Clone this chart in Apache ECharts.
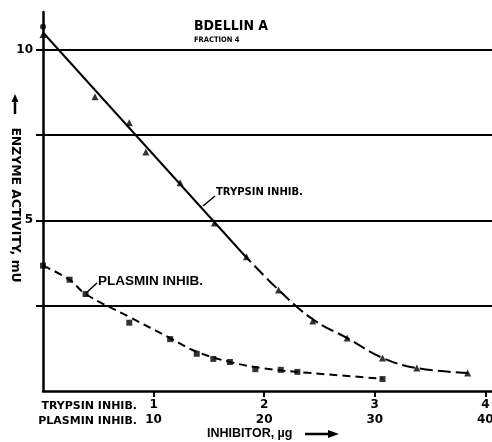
<!DOCTYPE html>
<html>
<head>
<meta charset="utf-8">
<script src="https://cdn.jsdelivr.net/npm/echarts@6/dist/echarts.min.js"></script>
<style>
html, body { margin: 0; padding: 0; background: #fff; }
#chart { width: 492px; height: 442px; }
</style>
</head>
<body>
<div id="chart"></div>
<script>
// trypsin inhibitor, ug (lower scale 0-4)
const trypsinDose = [0, 0.47, 0.78, 0.93, 1.24, 1.55, 1.84, 2.13, 2.44, 2.75, 3.07, 3.38, 3.84];
const trypsinActivity = [10.44, 8.62, 7.86, 7.0, 6.1, 4.92, 3.93, 2.96, 2.05, 1.55, 0.97, 0.67, 0.53];
// plasmin inhibitor, ug (upper scale 0-40)
const plasminDose = [0, 2.4, 3.85, 7.8, 11.5, 13.9, 15.4, 16.9, 19.2, 21.5, 23, 30.7];
const plasminActivity = [3.67, 3.26, 2.84, 2.0, 1.52, 1.09, 0.94, 0.85, 0.64, 0.62, 0.56, 0.35];
// control, no inhibitor
const controlDose = [0];
const controlActivity = [10.67];

// drawn curves
const trypsinFitX = [0, 1.8];
const trypsinFitY = [10.5, 4.05];
const trypsinTailX = [1.8, 2.13, 2.44, 2.75, 3.07, 3.38, 3.84];
const trypsinTailY = [4.05, 2.96, 2.1, 1.55, 0.97, 0.67, 0.53];
const plasminCurveX = [0, 2.4, 3.85, 7.8, 11.5, 13.9, 16.9, 20, 23, 30.7];
const plasminCurveY = [3.67, 3.26, 2.84, 2.17, 1.55, 1.15, 0.85, 0.66, 0.56, 0.36];

const trypsinTicks = [1, 2, 3, 4];
const plasminTicks = [10, 20, 30, 40];
const yTicks = [2.5, 5, 7.5, 10];
const yLabels = [5, 10];

const FONT = '"DejaVu Sans", sans-serif';
const HELV = '"Liberation Sans", Arial, sans-serif';
const NARROW = '"Liberation Sans Narrow", "DejaVu Sans Condensed", sans-serif';

function pairs(xs, ys, scale) {
    return xs.map((x, i) => [x * (scale || 1), ys[i]]);
}

function initChart() {
    const chart = echarts.init(document.getElementById('chart'));
    const option = {
        animation: false,
        backgroundColor: '#fff',
        grid: { left: 43, right: 0, top: 12, bottom: 51, outerBoundsMode: 'none' },
        xAxis: {
            type: 'value',
            min: 0,
            max: 4.06,
            interval: 1,
            axisLine: { lineStyle: { color: '#000', width: 2.5 } },
            axisTick: {
                customValues: trypsinTicks,
                length: 6,
                lineStyle: { color: '#000', width: 2 }
            },
            splitLine: { show: false },
            axisLabel: {
                customValues: trypsinTicks,
                margin: 6,
                color: '#000',
                fontFamily: FONT,
                fontWeight: 'bold',
                fontSize: 12,
                lineHeight: 15,
                formatter: v => v + '\n' + plasminTicks[trypsinTicks.indexOf(v)]
            }
        },
        yAxis: {
            type: 'value',
            min: 0,
            max: 11.1,
            interval: 2.5,
            axisLine: { show: true, lineStyle: { color: '#000', width: 2.5 } },
            axisTick: {
                show: true,
                customValues: yTicks,
                length: 7,
                lineStyle: { color: '#000', width: 2 }
            },
            splitLine: {
                show: true,
                showMinLine: true,
                showMaxLine: true,
                lineStyle: { color: '#000', width: 2 }
            },
            axisLabel: {
                customValues: yLabels,
                margin: 10,
                color: '#000',
                fontFamily: FONT,
                fontWeight: 'bold',
                fontSize: 12
            }
        },
        series: [
            {
                type: 'line',
                data: pairs(trypsinFitX, trypsinFitY),
                showSymbol: false,
                lineStyle: { color: '#000', width: 2 }
            },
            {
                type: 'line',
                data: pairs(trypsinTailX, trypsinTailY),
                smooth: 0.4,
                showSymbol: false,
                lineStyle: { color: '#000', width: 2, type: [13, 5] }
            },
            {
                type: 'line',
                data: pairs(plasminCurveX, plasminCurveY, 0.1),
                smooth: 0.4,
                showSymbol: false,
                lineStyle: { color: '#000', width: 2, type: [8, 5] }
            },
            {
                type: 'scatter',
                data: pairs(trypsinDose, trypsinActivity),
                symbol: 'triangle',
                symbolSize: 7,
                itemStyle: { color: '#000' }
            },
            {
                type: 'scatter',
                data: pairs(plasminDose, plasminActivity, 0.1),
                symbol: 'rect',
                symbolSize: 6,
                itemStyle: { color: '#000' }
            },
            {
                type: 'scatter',
                data: pairs(controlDose, controlActivity),
                symbol: 'circle',
                symbolSize: 6,
                itemStyle: { color: '#000' }
            }
        ],
        graphic: [
            { type: 'text', style: { text: 'BDELLIN A', x: 194, y: 26, font: 'bold 14px ' + NARROW, fill: '#000', textVerticalAlign: 'middle' } },
            { type: 'text', style: { text: 'FRACTION 4', x: 194, y: 40, font: 'bold 7.5px ' + NARROW, fill: '#000', textVerticalAlign: 'middle' } },
            { type: 'text', style: { text: 'TRYPSIN INHIB.', x: 216, y: 192, font: 'bold 10px ' + FONT, fill: '#000', textVerticalAlign: 'middle' } },
            { type: 'line', shape: { x1: 203, y1: 206, x2: 215, y2: 196 }, style: { stroke: '#000', lineWidth: 1.5 } },
            { type: 'text', style: { text: 'PLASMIN INHIB.', x: 98, y: 281, font: 'bold 13.5px ' + HELV, fill: '#000', textVerticalAlign: 'middle' } },
            { type: 'line', shape: { x1: 86, y1: 293, x2: 97, y2: 283 }, style: { stroke: '#000', lineWidth: 1.5 } },
            // y axis name with arrow
            { type: 'text', rotation: -Math.PI / 2, x: 15, y: 205, style: { text: 'ENZYME ACTIVITY, mU', x: 0, y: 0, font: 'bold 12.4px ' + FONT, fill: '#000', textAlign: 'center', textVerticalAlign: 'middle' } },
            { type: 'line', shape: { x1: 15, y1: 114, x2: 15, y2: 100 }, style: { stroke: '#000', lineWidth: 2.5 } },
            { type: 'polygon', shape: { points: [[15, 94], [11.5, 102], [18.5, 102]] }, style: { fill: '#000' } },
            // x axis row names
            { type: 'text', style: { text: 'TRYPSIN INHIB.', x: 137, y: 406, font: 'bold 11px ' + FONT, fill: '#000', textAlign: 'right', textVerticalAlign: 'middle' } },
            { type: 'text', style: { text: 'PLASMIN INHIB.', x: 137, y: 421, font: 'bold 11px ' + FONT, fill: '#000', textAlign: 'right', textVerticalAlign: 'middle' } },
            { type: 'text', style: { text: 'INHIBITOR, \u00b5g', x: 207, y: 434, font: 'bold 12.5px ' + HELV, fill: '#000', textVerticalAlign: 'middle' } },
            { type: 'line', shape: { x1: 305, y1: 434, x2: 330, y2: 434 }, style: { stroke: '#000', lineWidth: 2.5 } },
            { type: 'polygon', shape: { points: [[339, 434], [328, 430], [328, 438]] }, style: { fill: '#000' } }
        ]
    };
    chart.setOption(option);
}

document.addEventListener('DOMContentLoaded', initChart);
</script>
</body>
</html>
